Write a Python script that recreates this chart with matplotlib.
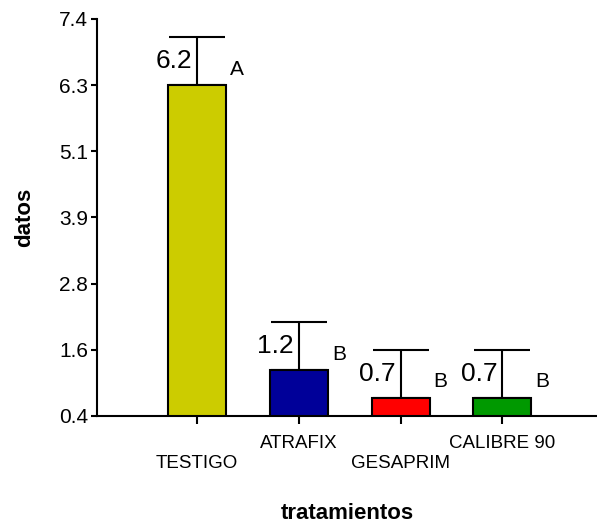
import matplotlib
matplotlib.use("Agg")
import matplotlib.pyplot as plt
import numpy as np

plt.rcParams['font.family'] = ['Liberation Sans', 'DejaVu Sans']

# data
tratamientos = ["TESTIGO", "ATRAFIX", "GESAPRIM", "CALIBRE 90"]
medias = [6.23, 1.21, 0.72, 0.72]
errores = [0.85, 0.85, 0.85, 0.85]
etiquetas = ["6.2", "1.2", "0.7", "0.7"]
letras = ["A", "B", "B", "B"]
colores = ["#CCCC00", "#000099", "#FF0000", "#009900"]
y_ticklabels = ["0.4", "1.6", "2.8", "3.9", "5.1", "6.3", "7.4"]

fig = plt.figure(figsize=(5.97, 5.23), dpi=100)
ax = fig.add_axes([0.1625, 0.2046, 0.8375, 0.7591])

x = np.arange(len(tratamientos))
ancho = 0.57
ax.bar(x, medias, width=ancho, color=colores, edgecolor="black", linewidth=1.5, zorder=2)
ax.errorbar(x, medias, yerr=[np.zeros(len(x)), errores], fmt="none",
            ecolor="black", elinewidth=1.5, capsize=20.5, capthick=1.5, zorder=1)

for xi, m, e, lab, let in zip(x, medias, errores, etiquetas, letras):
    ax.text(xi - 0.05, m + e / 2, lab, ha="right", va="center", fontsize=19)
    ax.text(xi + ancho / 2 + 0.04, m + 0.28, let, ha="left", va="center", fontsize=15)

ax.set_xlim(-0.983, 3.93)
ax.set_ylim(0.4, 7.4)
ax.set_yticks(np.linspace(0.4, 7.4, 7))
ax.set_yticklabels(y_ticklabels, fontsize=15)
ax.set_xticks(x)
ax.set_xticklabels(["\n" + t if i % 2 == 0 else t for i, t in enumerate(tratamientos)],
                   fontsize=13.5, linespacing=1.2)

ax.spines["top"].set_visible(False)
ax.spines["right"].set_visible(False)
ax.spines["left"].set_linewidth(1.5)
ax.spines["bottom"].set_linewidth(1.5)
ax.tick_params(axis="x", direction="out", length=6, width=1.5, pad=8)
ax.tick_params(axis="y", direction="out", length=4.5, width=1.5, pad=2)

ax.set_ylabel("datos", fontsize=16, fontweight="bold", labelpad=17)
ax.set_xlabel("tratamientos", fontsize=16, fontweight="bold", labelpad=22)

fig.savefig("out.png", dpi=100)
